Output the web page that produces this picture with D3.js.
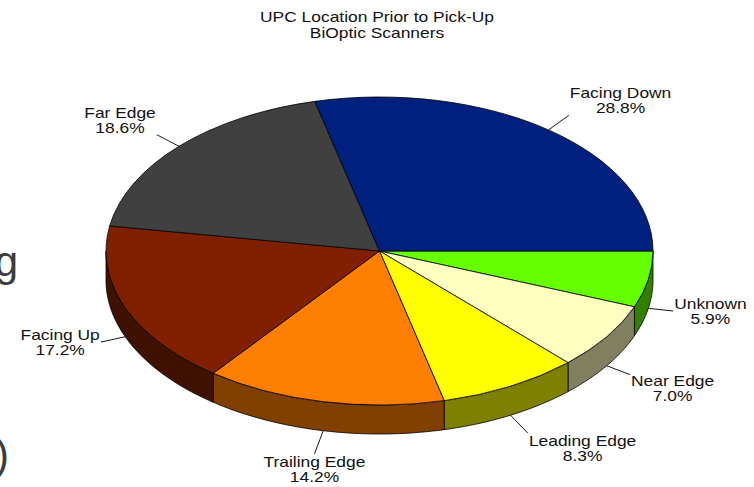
<!DOCTYPE html>
<html lang="en">
<head>
    <meta charset="UTF-8">
    <title>UPC Location Prior to Pick-Up</title>
    <script src="https://cdn.jsdelivr.net/npm/d3@7/dist/d3.min.js"></script>
    <style>
        html, body { margin: 0; padding: 0; background: #fff; }
        svg { display: block; font-family: "Liberation Sans", Arial, sans-serif; }
    </style>
</head>
<body>
<script>
    // slices, clockwise from 3 o'clock
    const labels = ['Unknown', 'Near Edge', 'Leading Edge', 'Trailing Edge', 'Facing Up', 'Far Edge', 'Facing Down'];
    const values = [5.9, 7.0, 8.3, 14.2, 17.2, 18.6, 28.8];
    const colors = ['#66ff00', '#ffffc0', '#ffff00', '#ff8000', '#802000', '#404040', '#002080'];
    const titleLines = ['UPC Location Prior to Pick-Up', 'BiOptic Scanners'];

    const width = 754, height = 487;
    const cx = 379.5, cy = 251, rx = 273.5, ry = 154, depth = 29;
    const stretch = 1.16;   // the text in the picture is a bit wider than plain Arial

    const svg = d3.select('body').append('svg')
        .attr('width', width)
        .attr('height', height);

    // pieces of slide text cut off at the left
    svg.append('text')
        .attr('x', 18).attr('y', 276)
        .attr('text-anchor', 'end')
        .style('font-size', '42px')
        .attr('fill', '#3c3c3c')
        .text('g');
    svg.append('text')
        .attr('x', 9).attr('y', 469)
        .attr('text-anchor', 'end')
        .style('font-size', '42px')
        .attr('fill', '#3c3c3c')
        .text(')');

    // title
    const title = svg.append('g')
        .attr('transform', `translate(377,0) scale(${stretch},1)`);
    title.selectAll('text')
        .data(titleLines)
        .enter().append('text')
        .attr('x', 0)
        .attr('y', (d, i) => 22 + i * 16)
        .attr('text-anchor', 'middle')
        .style('font-size', '15px')
        .attr('fill', '#111')
        .text(d => d);

    const pie = d3.pie()
        .sort(null)
        .startAngle(Math.PI / 2)
        .endAngle(Math.PI / 2 + 2 * Math.PI)
        .value(d => d);
    const arcs = pie(values);

    const ex = a => cx + rx * Math.sin(a);
    const ey = a => cy - ry * Math.cos(a);
    const dark = c => {
        const r = d3.rgb(c);
        return d3.rgb(r.r * 0.5, r.g * 0.5, r.b * 0.5).toString();
    };

    // side walls (front half only)
    const line = d3.line();
    const sides = svg.append('g');
    arcs.forEach((d, i) => {
        const a0 = Math.max(d.startAngle, Math.PI / 2);
        const a1 = Math.min(d.endAngle, Math.PI * 1.5);
        if (a1 <= a0) return;
        const n = 40;
        const top = d3.range(n + 1).map(k => {
            const a = a0 + (a1 - a0) * k / n;
            return [ex(a), ey(a)];
        });
        const bottom = top.slice().reverse().map(p => [p[0], p[1] + depth]);
        sides.append('path')
            .attr('d', line(top.concat(bottom)) + 'Z')
            .attr('fill', dark(colors[i]))
            .attr('stroke', '#000')
            .attr('stroke-width', 0.8)
            .attr('stroke-linejoin', 'round');
    });

    // top faces
    const arc = d3.arc().innerRadius(0).outerRadius(rx);
    svg.append('g')
        .attr('transform', `translate(${cx},${cy}) scale(1,${ry / rx})`)
        .selectAll('path')
        .data(arcs)
        .enter().append('path')
        .attr('d', arc)
        .attr('fill', (d, i) => colors[i])
        .attr('stroke', '#000')
        .attr('stroke-width', 0.8)
        .attr('stroke-linejoin', 'round')
        .attr('vector-effect', 'non-scaling-stroke');

    // labels with leader lines
    const fmt = d3.format('.1f');
    const smooth = (e0, e1, x) => {
        const t = Math.max(0, Math.min(1, (x - e0) / (e1 - e0)));
        return t * t * (3 - 2 * t);
    };
    const lab = svg.append('g');
    arcs.forEach((d, i) => {
        const m = (d.startAngle + d.endAngle) / 2;
        const front = Math.cos(m) < 0;
        const x0 = ex(m), y0 = ey(m) + (front ? depth : 0);
        let dx = rx * Math.sin(m), dy = -ry * Math.cos(m);
        const len = Math.hypot(dx, dy);
        dx /= len; dy /= len;
        const x1 = x0 + 25 * dx, y1 = y0 + 25 * dy;

        lab.append('line')
            .attr('x1', x0).attr('y1', y0)
            .attr('x2', x1).attr('y2', y1)
            .attr('stroke', '#000')
            .attr('stroke-width', 0.9);

        const g = lab.append('g');
        const inner = g.append('g').attr('transform', `scale(${stretch},1)`);
        const t = inner.selectAll('text')
            .data([labels[i], fmt(values[i]) + '%'])
            .enter().append('text')
            .attr('x', 0)
            .attr('y', (s, k) => -2 + k * 15)
            .attr('text-anchor', 'middle')
            .style('font-size', '15px')
            .attr('fill', '#111')
            .text(s => s);

        const w = d3.max(t.nodes(), n => n.getComputedTextLength()) * stretch + 2;
        const h = 30;
        const ox = Math.sign(dx) * w / 2 * smooth(0.4, 0.6, Math.abs(dx));
        const oy = Math.sign(dy) * h / 2 * smooth(0.2, 0.4, Math.abs(dy));
        g.attr('transform', `translate(${x1 + ox},${y1 + oy})`);
    });
</script>
</body>
</html>
